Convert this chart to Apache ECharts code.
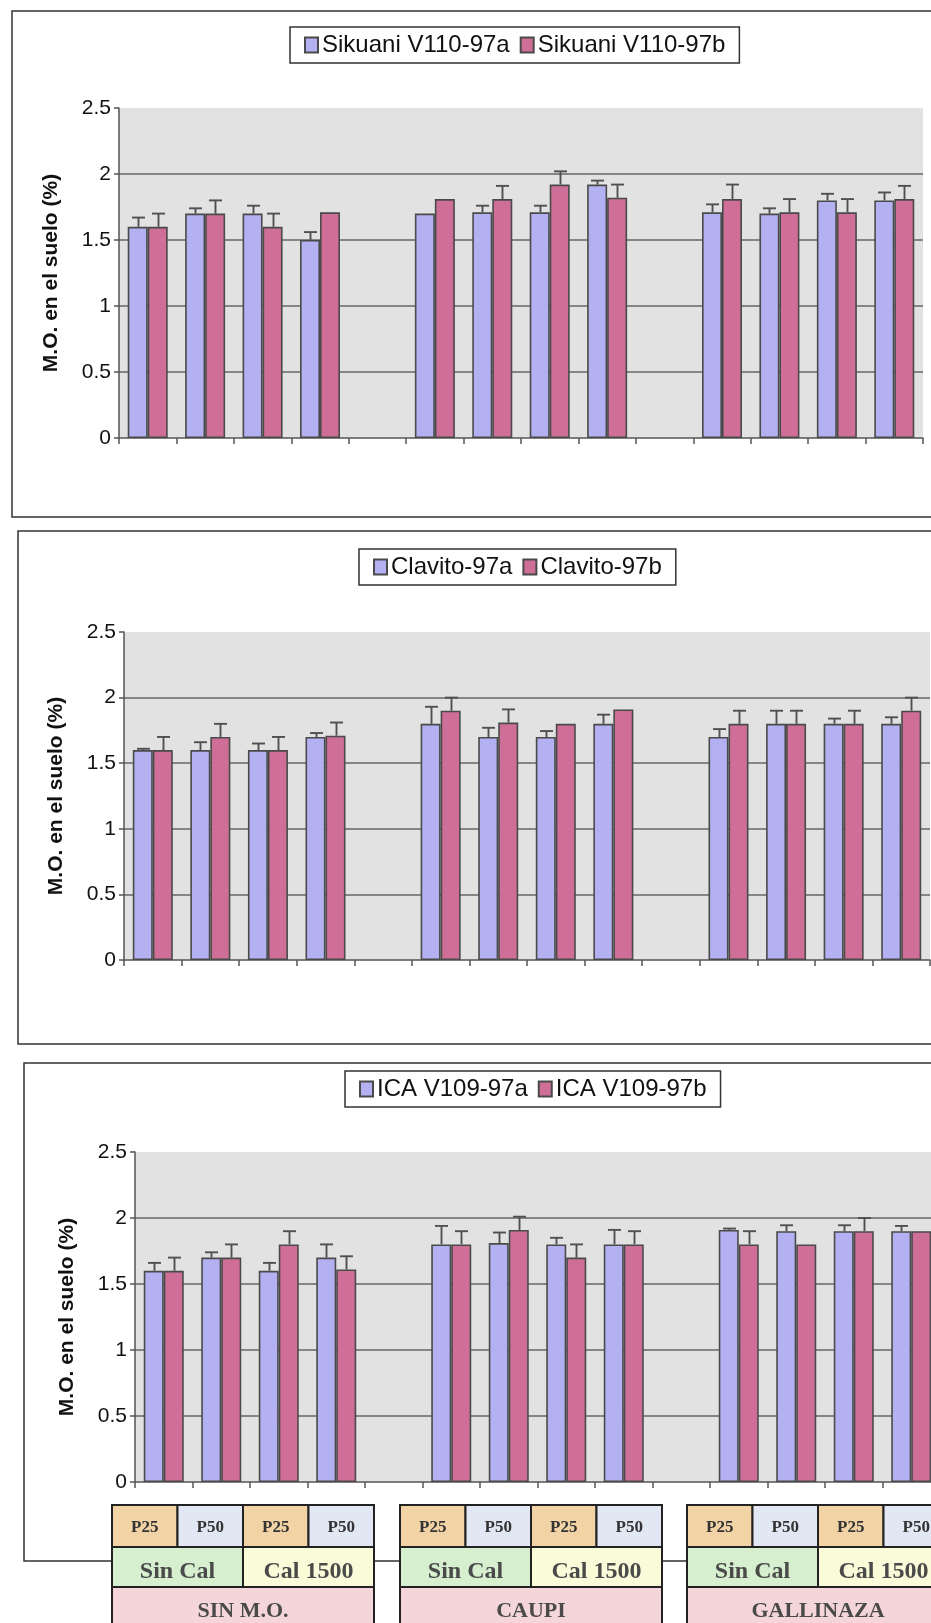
<!DOCTYPE html>
<html>
<head>
<meta charset="utf-8">
<script src="https://cdn.jsdelivr.net/npm/echarts@6/dist/echarts.min.js"></script>
<style>
  html, body { margin: 0; padding: 0; background: #ffffff; }
  #main { width: 931px; height: 1623px; }
</style>
</head>
<body>
<div id="main"></div>
<script>
// 14 slots per panel: three treatment blocks of four bars, separated by an empty slot
const categories = ['s1', 's2', 's3', 's4', 'gap1', 'c1', 'c2', 'c3', 'c4', 'gap2', 'g1', 'g2', 'g3', 'g4'];

// Organic-matter treatments, lime levels and P rates shown in the table under the last panel
const treatmentLabels = ['SIN M.O.', 'CAUPI', 'GALLINAZA'];
const limeLabels = ['Sin Cal', 'Cal 1500'];
const phosLabels = ['P25', 'P50'];

// Value-axis ticks
const yMin = 0;
const yMax = 2.5;
const yStep = 0.5;
const yTitle = 'M.O. en el suelo (%)';

// Panel 1 — Sikuani V110
const sikuaniNames = ['Sikuani V110-97a', 'Sikuani V110-97b'];
const sikuaniA    = [1.60, 1.70, 1.70, 1.50, null, 1.70, 1.71, 1.71, 1.92, null, 1.71, 1.70, 1.80, 1.80];
const sikuaniAErr = [0.07, 0.04, 0.06, 0.06, null, 0.00, 0.05, 0.05, 0.03, null, 0.06, 0.04, 0.05, 0.06];
const sikuaniB    = [1.60, 1.70, 1.60, 1.71, null, 1.81, 1.81, 1.92, 1.82, null, 1.81, 1.71, 1.71, 1.81];
const sikuaniBErr = [0.10, 0.10, 0.10, 0.00, null, 0.00, 0.10, 0.10, 0.10, null, 0.11, 0.10, 0.10, 0.10];

// Panel 2 — Clavito
const clavitoNames = ['Clavito-97a', 'Clavito-97b'];
const clavitoA    = [1.60, 1.60, 1.60, 1.70, null, 1.80, 1.70, 1.70, 1.80, null, 1.70, 1.80, 1.80, 1.80];
const clavitoAErr = [0.01, 0.06, 0.05, 0.03, null, 0.13, 0.07, 0.045, 0.07, null, 0.06, 0.10, 0.04, 0.05];
const clavitoB    = [1.60, 1.70, 1.60, 1.71, null, 1.90, 1.81, 1.80, 1.91, null, 1.80, 1.80, 1.80, 1.90];
const clavitoBErr = [0.10, 0.10, 0.10, 0.10, null, 0.10, 0.10, 0.00, 0.00, null, 0.10, 0.10, 0.10, 0.10];

// Panel 3 — ICA V109
const icaNames = ['ICA V109-97a', 'ICA V109-97b'];
const icaA    = [1.60, 1.70, 1.60, 1.70, null, 1.80, 1.81, 1.80, 1.80, null, 1.91, 1.90, 1.90, 1.90];
const icaAErr = [0.06, 0.04, 0.06, 0.10, null, 0.14, 0.08, 0.05, 0.11, null, 0.01, 0.045, 0.045, 0.04];
const icaB    = [1.60, 1.70, 1.80, 1.61, null, 1.80, 1.91, 1.70, 1.80, null, 1.80, 1.80, 1.90, 1.90];
const icaBErr = [0.10, 0.10, 0.10, 0.10, null, 0.10, 0.10, 0.10, 0.10, null, 0.10, 0.00, 0.10, 0.00];

const panels = [
  { names: sikuaniNames, a: sikuaniA, aErr: sikuaniAErr, b: sikuaniB, bErr: sikuaniBErr },
  { names: clavitoNames, a: clavitoA, aErr: clavitoAErr, b: clavitoB, bErr: clavitoBErr },
  { names: icaNames,     a: icaA,     aErr: icaAErr,     b: icaB,     bErr: icaBErr }
];

// ---- layout & style ----
const COLOR_A = '#b3b1f1';
const COLOR_B = '#cf6f98';
const EDGE = '#4a4a4a';
const BAR_W = 20;
const SANS = "'Liberation Sans', Arial, sans-serif";
const SERIF = "'Liberation Serif', 'Times New Roman', serif";

const gridBoxes = [
  { left: 119, top: 108,  width: 804, height: 330 },
  { left: 124, top: 632,  width: 806, height: 328 },
  { left: 135, top: 1152, width: 805, height: 330 }
];
const legendPos = [
  { left: 290, top: 27 },
  { left: 359, top: 549 },
  { left: 345, top: 1071 }
];
const frames = [
  { x: 12, y: 11,   width: 940, height: 506 },
  { x: 18, y: 531,  width: 940, height: 513 },
  { x: 24, y: 1063, width: 940, height: 498 }
];

const chart = echarts.init(document.getElementById('main'), null, { renderer: 'canvas' });

function errorBars(panelIdx, values, errs, side, name) {
  const data = [];
  values.forEach((v, i) => {
    if (v != null && errs[i]) data.push([i, v, errs[i]]);
  });
  return {
    type: 'custom',
    name: name + ' error',
    xAxisIndex: panelIdx,
    yAxisIndex: panelIdx,
    z: 6,
    silent: true,
    data: data,
    encode: { x: 0, y: 1 },
    renderItem: function (params, api) {
      const i = api.value(0);
      const v = api.value(1);
      const e = api.value(2);
      const base = api.coord([i, v]);
      const top = api.coord([i, v + e]);
      const x = Math.round(base[0] + side * BAR_W / 2) + 0.5;
      const stroke = { stroke: '#505050', lineWidth: 1.9 };
      return {
        type: 'group',
        children: [
          { type: 'line', shape: { x1: x, y1: base[1], x2: x, y2: top[1] }, style: stroke },
          { type: 'line', shape: { x1: x - 6.5, y1: top[1], x2: x + 6.5, y2: top[1] }, style: stroke }
        ]
      };
    }
  };
}

const grid = [], xAxis = [], yAxis = [], series = [], legend = [];

panels.forEach((p, k) => {
  grid.push(Object.assign({
    show: true,
    backgroundColor: '#e2e2e2',
    borderWidth: 0,
    containLabel: false,
    outerBoundsMode: 'none'
  }, gridBoxes[k]));

  xAxis.push({
    type: 'category',
    gridIndex: k,
    data: categories,
    boundaryGap: true,
    axisLine: { show: true, lineStyle: { color: '#555', width: 1.5 } },
    axisTick: { show: true, alignWithLabel: false, length: 6, inside: false, lineStyle: { color: '#555', width: 1.5 } },
    axisLabel: { show: false },
    splitLine: { show: false }
  });

  yAxis.push({
    type: 'value',
    gridIndex: k,
    min: yMin,
    max: yMax,
    interval: yStep,
    name: yTitle,
    nameLocation: 'middle',
    nameRotate: 90,
    nameGap: 57,
    nameTextStyle: { fontFamily: SANS, fontSize: 21, fontWeight: 'bold', color: '#111' },
    axisLine: { show: true, lineStyle: { color: '#555', width: 1.5 } },
    axisTick: { show: true, length: 5, lineStyle: { color: '#555', width: 1.5 } },
    axisLabel: { fontFamily: SANS, fontSize: 21, color: '#111', margin: 8 },
    splitLine: { show: true, showMaxLine: false, showMinLine: false, lineStyle: { color: '#666', width: 1.5 } }
  });

  const barCommon = {
    type: 'bar',
    xAxisIndex: k,
    yAxisIndex: k,
    barWidth: BAR_W,
    barGap: '0%',
    z: 3
  };
  series.push(Object.assign({}, barCommon, {
    name: p.names[0],
    data: p.a,
    itemStyle: { color: COLOR_A, borderColor: EDGE, borderWidth: 1.6 }
  }));
  series.push(Object.assign({}, barCommon, {
    name: p.names[1],
    data: p.b,
    itemStyle: { color: COLOR_B, borderColor: EDGE, borderWidth: 1.6 }
  }));
  series.push(errorBars(k, p.a, p.aErr, -1, p.names[0]));
  series.push(errorBars(k, p.b, p.bErr, 1, p.names[1]));

  legend.push({
    data: p.names,
    left: legendPos[k].left,
    top: legendPos[k].top,
    orient: 'horizontal',
    icon: 'rect',
    itemWidth: 13,
    itemHeight: 15,
    itemGap: 10,
    padding: [6, 14],
    borderColor: '#333',
    borderWidth: 1.5,
    selectedMode: false,
    textStyle: { fontFamily: SANS, fontSize: 24, color: '#111', padding: [0, 0, 0, -1] }
  });
});

const frameGraphics = frames.map(f => ({
  type: 'rect',
  shape: { x: f.x, y: f.y, width: f.width, height: f.height },
  style: { fill: null, stroke: '#333', lineWidth: 1.5 },
  z: -1,
  silent: true
}));

chart.setOption({
  animation: false,
  backgroundColor: '#ffffff',
  grid: grid,
  xAxis: xAxis,
  yAxis: yAxis,
  legend: legend,
  series: series,
  graphic: frameGraphics
});

// Treatment table under the last panel, anchored to each block of four categories
const TABLE_TOP = 1505;
const ROW1_H = 42;
const ROW2_H = 40;
const ROW3_H = 45;
const TABLE_W = 262;
const P_FILL = ['#f1d3a6', '#e2e8f3'];
const LIME_FILL = ['#d5efcf', '#fafbd9'];
const TREAT_FILL = '#f4d6da';
const CELL_STROKE = { stroke: '#222', lineWidth: 2 };

const tableElems = [];
treatmentLabels.forEach((label, g) => {
  const firstIdx = g * 5;
  const c0 = chart.convertToPixel({ xAxisIndex: 2, yAxisIndex: 2 }, [firstIdx, 0]);
  const c1 = chart.convertToPixel({ xAxisIndex: 2, yAxisIndex: 2 }, [firstIdx + 1, 0]);
  const catW = c1[0] - c0[0];
  const x0 = Math.round(c0[0] - catW / 2 - 23);
  const cellW = TABLE_W / 4;
  const halfW = TABLE_W / 2;

  // row 1: P rates
  for (let j = 0; j < 4; j++) {
    const cx = x0 + j * cellW;
    tableElems.push({
      type: 'rect',
      shape: { x: cx, y: TABLE_TOP, width: cellW, height: ROW1_H },
      style: Object.assign({ fill: P_FILL[j % 2] }, CELL_STROKE)
    });
    tableElems.push({
      type: 'text',
      x: cx + cellW / 2, y: TABLE_TOP + ROW1_H / 2 + 2,
      style: {
        text: phosLabels[j % 2], fontFamily: SERIF, fontWeight: 'bold', fontSize: 17,
        fill: '#333', align: 'center', verticalAlign: 'middle'
      }
    });
  }
  // row 2: lime levels
  for (let j = 0; j < 2; j++) {
    const cx = x0 + j * halfW;
    tableElems.push({
      type: 'rect',
      shape: { x: cx, y: TABLE_TOP + ROW1_H, width: halfW, height: ROW2_H },
      style: Object.assign({ fill: LIME_FILL[j] }, CELL_STROKE)
    });
    tableElems.push({
      type: 'text',
      x: cx + halfW / 2, y: TABLE_TOP + ROW1_H + ROW2_H / 2 + 5,
      style: {
        text: limeLabels[j], fontFamily: SERIF, fontWeight: 'bold', fontSize: 24,
        fill: '#4a4a4a', align: 'center', verticalAlign: 'middle'
      }
    });
  }
  // row 3: organic-matter treatment
  tableElems.push({
    type: 'rect',
    shape: { x: x0, y: TABLE_TOP + ROW1_H + ROW2_H, width: TABLE_W, height: ROW3_H },
    style: Object.assign({ fill: TREAT_FILL }, CELL_STROKE)
  });
  tableElems.push({
    type: 'text',
    x: x0 + TABLE_W / 2, y: TABLE_TOP + ROW1_H + ROW2_H + 24,
    style: {
      text: label, fontFamily: SERIF, fontWeight: 'bold', fontSize: 22,
      fill: '#4a4a4a', align: 'center', verticalAlign: 'middle'
    }
  });
});

chart.setOption({
  graphic: frameGraphics.concat([{ type: 'group', silent: true, z: 10, children: tableElems }])
});
</script>
</body>
</html>
